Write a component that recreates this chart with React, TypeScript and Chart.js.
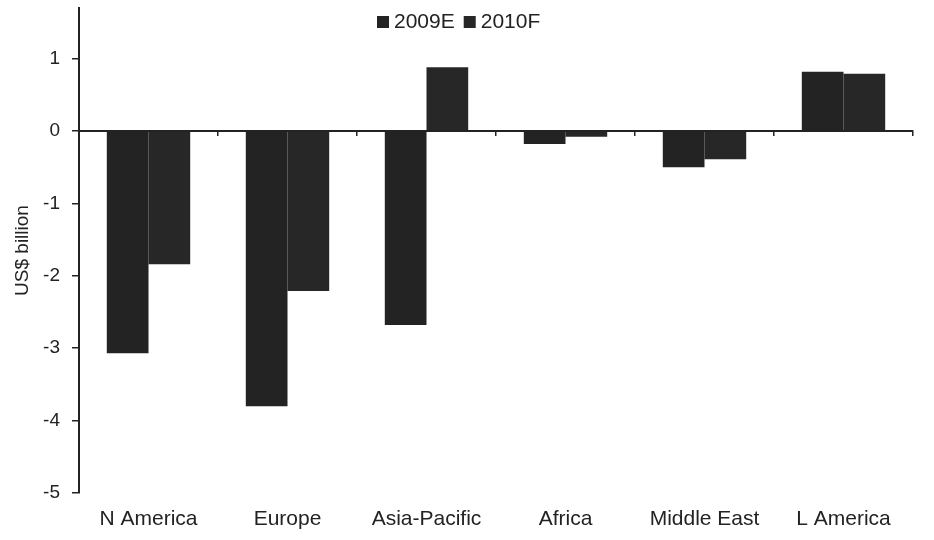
import React, { useEffect, useRef } from 'react';
import { Chart, registerables } from 'chart.js';

Chart.register(...registerables);

// Regions on the category axis
const regions = ['N America', 'Europe', 'Asia-Pacific', 'Africa', 'Middle East', 'L America'];
// Change in US$ billion per region
const estimate2009 = [-3.07, -3.8, -2.68, -0.18, -0.5, 0.82];
const forecast2010 = [-1.84, -2.21, 0.88, -0.08, -0.39, 0.79];
const seriesNames = ['2009E', '2010F'];
const yTickValues = [-5, -4, -3, -2, -1, 0, 1];

const INK = '#232323';
const FONT = "'Liberation Sans', Arial, sans-serif";

// Fixed gutters around the plot
const Y_AXIS_WIDTH = 79;
const X_AXIS_HEIGHT = 47;

// Compact legend drawn inside the plot, near its top edge
const insideLegend = {
  id: 'insideLegend',
  afterDraw(chart: any) {
    const { ctx, chartArea } = chart;
    const box = 12;
    const fontSize = 21;
    let x = 377;
    const cy = chartArea.top + 14;
    ctx.save();
    ctx.font = `${fontSize}px ${FONT}`;
    ctx.textBaseline = 'middle';
    ctx.textAlign = 'left';
    chart.data.datasets.forEach((ds: any) => {
      ctx.fillStyle = ds.backgroundColor;
      ctx.fillRect(x, cy - box / 2, box, box);
      x += box + 5;
      ctx.fillStyle = INK;
      ctx.fillText(ds.label, x, cy);
      x += ctx.measureText(ds.label).width + 9;
    });
    ctx.restore();
  },
};

export default function App() {
  const canvasRef = useRef<HTMLCanvasElement | null>(null);

  useEffect(() => {
    document.body.style.margin = '0';
    const canvas = canvasRef.current;
    if (!canvas) return;

    const chart = new Chart(canvas, {
      type: 'bar',
      data: {
        labels: regions,
        datasets: [
          {
            label: seriesNames[0],
            data: estimate2009,
            backgroundColor: INK,
            borderWidth: 0,
          },
          {
            label: seriesNames[1],
            data: forecast2010,
            backgroundColor: '#272727',
            borderWidth: 0,
          },
        ],
      },
      options: {
        responsive: false,
        animation: false,
        events: [],
        layout: { padding: { left: 0, right: 21, top: 8, bottom: 0 } },
        datasets: {
          bar: { categoryPercentage: 0.6, barPercentage: 1.0 },
        },
        plugins: {
          tooltip: { enabled: false },
          legend: { display: false },
        },
        scales: {
          x: {
            type: 'category',
            position: 'bottom',
            afterFit(scale: any) {
              scale.height = X_AXIS_HEIGHT;
              scale.paddingLeft = 0;
              scale.paddingRight = 0;
            },
            grid: { display: false, drawTicks: false },
            border: { display: false },
            ticks: {
              color: INK,
              padding: 14,
              maxRotation: 0,
              autoSkip: false,
              font: { family: FONT, size: 21 },
            },
          },
          // zero line with short category dividers
          x2: {
            type: 'category',
            position: { y: 0 } as any,
            labels: regions,
            offset: true,
            afterFit(scale: any) {
              scale.height = 0;
              scale.paddingLeft = 0;
              scale.paddingRight = 0;
            },
            grid: {
              offset: true,
              drawOnChartArea: false,
              tickLength: 4,
              color: INK,
              lineWidth: 1.5,
            },
            border: { display: true, color: INK, width: 2 },
            ticks: { display: false },
          },
          y: {
            type: 'linear',
            min: -5,
            max: 1.7,
            afterBuildTicks(scale: any) {
              scale.ticks = yTickValues.map((v) => ({ value: v }));
            },
            afterFit(scale: any) {
              scale.width = Y_AXIS_WIDTH;
              scale.paddingTop = 0;
              scale.paddingBottom = 0;
            },
            grid: {
              drawOnChartArea: false,
              tickLength: 7,
              color: INK,
              lineWidth: 1.5,
            },
            border: { display: true, color: INK, width: 2 },
            ticks: {
              color: INK,
              padding: 12,
              font: { family: FONT, size: 19 },
            },
            title: {
              display: true,
              text: 'US$ billion',
              color: INK,
              padding: { top: 11, bottom: 0 },
              font: { family: FONT, size: 19 },
            },
          },
        },
      },
      plugins: [insideLegend],
    });

    return () => chart.destroy();
  }, []);

  return (
    <div style={{ width: 934, height: 540, background: '#fff' }}>
      <canvas ref={canvasRef} width={934} height={540} />
    </div>
  );
}
